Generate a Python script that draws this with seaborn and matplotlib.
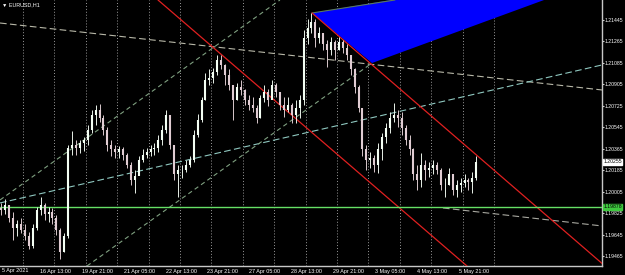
import numpy as np
import pandas as pd
import matplotlib
matplotlib.use("Agg")
import matplotlib.pyplot as plt
import seaborn as sns

sns.set_style("dark")
plt.rcParams['font.family'] = ['Liberation Sans', 'DejaVu Sans']

# ---------------- data (EURUSD H1, aggregated to 3-hour candles) ----------------
# time axis: trading hours counted from 15 Apr 2021 00:00 (weekends removed)
candle_start_hour = 7.5
candle_step_hours = 3
first_open = 1.1987
highs = [1.1991, 1.1994, 1.1989, 1.1983, 1.1977, 1.1978, 1.1973, 1.1967, 1.1973, 1.1988,
         1.1996, 1.1991, 1.1988, 1.1987, 1.1981, 1.1970, 1.1966, 1.2040, 1.2051, 1.2044,
         1.2044, 1.2046, 1.2056, 1.2069, 1.2073, 1.2074, 1.2065, 1.2055, 1.2044, 1.2040,
         1.2039, 1.2038, 1.2033, 1.2025, 1.2019, 1.2030, 1.2036, 1.2037, 1.2040, 1.2041,
         1.2048, 1.2056, 1.2069, 1.2065, 1.2040, 1.2023, 1.2023, 1.2027, 1.2030, 1.2052,
         1.2066, 1.2080, 1.2100, 1.2103, 1.2104, 1.2115, 1.2115, 1.2108, 1.2103, 1.2087,
         1.2092, 1.2094, 1.2087, 1.2082, 1.2080, 1.2073, 1.2082, 1.2090, 1.2087, 1.2094,
         1.2092, 1.2084, 1.2080, 1.2080, 1.2075, 1.2077, 1.2082, 1.2136, 1.2145, 1.2150,
         1.2145, 1.2139, 1.2134, 1.2128, 1.2130, 1.2128, 1.2130, 1.2128, 1.2124, 1.2115,
         1.2104, 1.2090, 1.2071, 1.2040, 1.2034, 1.2031, 1.2041, 1.2050, 1.2058, 1.2067,
         1.2075, 1.2069, 1.2067, 1.2056, 1.2048, 1.2037, 1.2023, 1.2033, 1.2027, 1.2025,
         1.2027, 1.2025, 1.2020, 1.2012, 1.2020, 1.2015, 1.2010, 1.2012, 1.2015, 1.2012,
         1.2017, 1.2030]
lows = [1.1981, 1.1982, 1.1975, 1.1960, 1.1963, 1.1966, 1.1960, 1.1952, 1.1953, 1.1968,
        1.1981, 1.1977, 1.1975, 1.1973, 1.1964, 1.1944, 1.1950, 1.1962, 1.2031, 1.2031,
        1.2033, 1.2035, 1.2040, 1.2050, 1.2056, 1.2059, 1.2048, 1.2035, 1.2030, 1.2029,
        1.2029, 1.2027, 1.2020, 1.2006, 1.1999, 1.2017, 1.2025, 1.2029, 1.2030, 1.2031,
        1.2034, 1.2040, 1.2050, 1.2036, 1.2010, 1.1996, 1.2012, 1.2017, 1.2021, 1.2025,
        1.2046, 1.2059, 1.2077, 1.2090, 1.2092, 1.2098, 1.2103, 1.2090, 1.2086, 1.2061,
        1.2077, 1.2082, 1.2073, 1.2069, 1.2067, 1.2058, 1.2062, 1.2076, 1.2072, 1.2080,
        1.2080, 1.2069, 1.2063, 1.2067, 1.2058, 1.2058, 1.2062, 1.2073, 1.2124, 1.2134,
        1.2122, 1.2125, 1.2119, 1.2105, 1.2115, 1.2111, 1.2119, 1.2117, 1.2111, 1.2098,
        1.2083, 1.2067, 1.2030, 1.2019, 1.2020, 1.2017, 1.2016, 1.2027, 1.2041, 1.2050,
        1.2059, 1.2055, 1.2048, 1.2040, 1.2031, 1.2010, 1.2002, 1.2004, 1.2010, 1.2013,
        1.2015, 1.2015, 1.2002, 1.1996, 1.2006, 1.1998, 1.1996, 1.2000, 1.2004, 1.2002,
        1.1999, 1.2010]
closes = [1.1985, 1.1989, 1.1978, 1.1970, 1.1973, 1.1968, 1.1963, 1.1955, 1.1970, 1.1985,
          1.1989, 1.1982, 1.1983, 1.1978, 1.1968, 1.1950, 1.1963, 1.2037, 1.2040, 1.2037,
          1.2041, 1.2044, 1.2052, 1.2065, 1.2069, 1.2062, 1.2052, 1.2040, 1.2036, 1.2034,
          1.2036, 1.2031, 1.2023, 1.2010, 1.2014, 1.2027, 1.2031, 1.2034, 1.2036, 1.2037,
          1.2044, 1.2052, 1.2065, 1.2040, 1.2015, 1.2019, 1.2019, 1.2023, 1.2027, 1.2048,
          1.2061, 1.2077, 1.2094, 1.2096, 1.2101, 1.2111, 1.2107, 1.2098, 1.2090, 1.2077,
          1.2088, 1.2086, 1.2077, 1.2073, 1.2071, 1.2062, 1.2079, 1.2084, 1.2077, 1.2090,
          1.2084, 1.2073, 1.2069, 1.2073, 1.2065, 1.2071, 1.2077, 1.2129, 1.2138, 1.2143,
          1.2129, 1.2134, 1.2124, 1.2119, 1.2126, 1.2119, 1.2126, 1.2121, 1.2115, 1.2103,
          1.2088, 1.2071, 1.2036, 1.2027, 1.2029, 1.2023, 1.2036, 1.2046, 1.2054, 1.2062,
          1.2065, 1.2062, 1.2054, 1.2044, 1.2036, 1.2015, 1.2010, 1.2023, 1.2019, 1.2020,
          1.2023, 1.2019, 1.2006, 1.2006, 1.2015, 1.2002, 1.2006, 1.2008, 1.2010, 1.2009,
          1.2012, 1.2025]

# price axis
y_tick_values = [1.19465, 1.19645, 1.19825, 1.20005, 1.20185, 1.20365,
                 1.20545, 1.20725, 1.20905, 1.21085, 1.21265, 1.21445]
y_range = (1.19381, 1.21613)
x_range = (6.42, 466.6)

# time axis labels (hour position, text)
x_tick_hours = [37, 69, 101, 133, 165, 197, 229, 261, 293, 325, 357]
x_tick_labels = ["16 Apr 13:00", "19 Apr 21:00", "21 Apr 05:00", "22 Apr 13:00",
                 "23 Apr 21:00", "27 Apr 05:00", "28 Apr 13:00", "29 Apr 21:00",
                 "3 May 05:00", "4 May 13:00", "5 May 21:00"]
first_label = "5 Apr 2021"
day_separator_hours = [24, 48, 72, 96, 120, 144, 168, 192, 216, 240, 264, 288,
                       312, 336, 360, 384]

# chart objects: anchor points (hour, price)
gray_line_1 = ([6.42, 466.6], [1.21420, 1.20858])
gray_line_2 = ([345.0, 466.6], [1.19868, 1.19717])
cyan_line = ([6.42, 466.6], [1.19910, 1.21068])
green_chan_1 = ([6.42, 220.4], [1.19935, 1.21613])
green_chan_2 = ([72.9, 290.8], [1.19381, 1.21084])
red_line_1 = ([127.2, 363.4], [1.21613, 1.19381])
red_line_2 = ([244.9, 468.9], [1.21504, 1.19381])
triangle_hours = [244.9, 290.8, 517.0]
triangle_prices = [1.21504, 1.21084, 1.21994]
triangle_edge = ([244.9, 308.3], [1.21504, 1.21613])
support_level = 1.19878
last_price = 1.20255
symbol_label = "\u25bc EURUSD,H1"

# ---------------- figure ----------------
W, H = 625, 275
FS_X = 3.9
FS_Y = 3.7
fig = plt.figure(figsize=(W / 100, H / 100), dpi=100, facecolor="black")
ax = fig.add_axes([0, 9 / H, 602 / W, 266 / H])
ax.set_facecolor("black")
ax.set_xlim(*x_range)
ax.set_ylim(*y_range)

# day separators
for h in day_separator_hours:
    ax.axvline(h, color="#9a9a9a", lw=0.7, ls=(0, (1, 2)), zorder=1)

# triangle
ax.fill(triangle_hours, triangle_prices, color="#0000ff", zorder=2, lw=0)

# trend lines
def tline(pts, color, ls, lw=0.8, z=3):
    sns.lineplot(x=pts[0], y=pts[1], ax=ax, color=color, linestyle=ls, lw=lw,
                 zorder=z, legend=False)

tline(gray_line_1, "#b8b8a8", (0, (6, 3)))
tline(gray_line_2, "#a8a8a0", (0, (6, 3)))
tline(cyan_line, "#8fc8c0", (0, (6, 3)))
tline(green_chan_1, "#7fa080", (0, (4, 3)))
tline(green_chan_2, "#7fa080", (0, (4, 3)))
tline(triangle_edge, "#5a7a5a", "-", lw=0.8)
tline(red_line_1, "#e02020", "-", lw=0.9)
tline(red_line_2, "#e02020", "-", lw=0.9)
ax.axhline(support_level, color="#66e066", lw=1.0, zorder=3)

# candles
n = len(closes)
xs = np.array([candle_start_hour + candle_step_hours * i for i in range(n)])
opens = np.array([first_open] + closes[:-1])
cl = np.array(closes)
up = cl >= opens
ax.vlines(xs, lows, highs, colors=np.where(up, "#e8f0e8", "#d8c8cc"), lw=0.7, zorder=4)
ax.vlines(xs, np.minimum(opens, cl), np.maximum(opens, cl),
          colors=np.where(up, "#f4fff4", "#e0ccd2"), lw=1.5, zorder=4)

# axes styling
for s in ["top", "left"]:
    ax.spines[s].set_visible(False)
for s in ["right", "bottom"]:
    ax.spines[s].set_color("#c8c8c8")
    ax.spines[s].set_linewidth(1.0)
ax.yaxis.tick_right()
ax.set_yticks(y_tick_values)
ax.set_yticklabels([f"{v:.5f}" for v in y_tick_values])
ax.tick_params(axis="y", colors="#d0d0d0", labelsize=FS_Y, length=1.2, pad=0.6,
               labelcolor="white")
ax.set_xticks(x_tick_hours)
ax.set_xticklabels(x_tick_labels)
ax.tick_params(axis="x", colors="#d0d0d0", labelsize=FS_X, length=1.5, pad=0.8,
               labelcolor="white")
for lbl in ax.get_xticklabels():
    lbl.set_horizontalalignment("left")
ax.grid(False)
ax.text(0.003, -0.009, first_label, transform=ax.transAxes, color="white",
        fontsize=FS_X, ha="left", va="top")

# price tags
ax.text(1.002, last_price, f"{last_price:.5f}", transform=ax.get_yaxis_transform(),
        color="black", fontsize=FS_Y, va="center", ha="left",
        bbox=dict(boxstyle="square,pad=0.12", fc="white", ec="white"))
ax.text(1.002, support_level, f"{support_level:.5f}", transform=ax.get_yaxis_transform(),
        color="black", fontsize=FS_Y, va="center", ha="left",
        bbox=dict(boxstyle="square,pad=0.12", fc="#3ec83e", ec="#3ec83e"))

ax.text(0.004, 0.992, symbol_label, transform=ax.transAxes, color="white",
        fontsize=FS_X, va="top", ha="left")

fig.savefig("out.png", dpi=100, facecolor="black")
